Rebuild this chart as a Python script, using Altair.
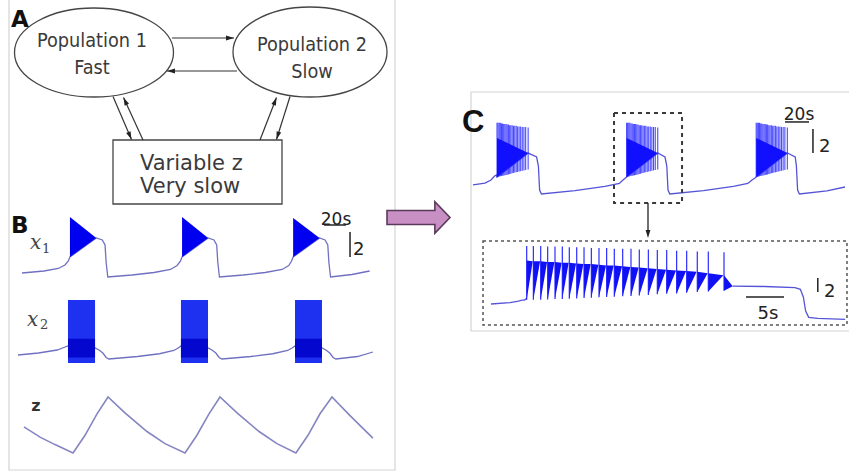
import math
import altair as alt
import pandas as pd

# ---------------------------------------------------------------------------
# Panel B: x1, x2 and z over three seizures (time in s, model units)
# ---------------------------------------------------------------------------
b_x1_t = [0, 20, 33, 39, 42, 43.6, 67.5, 73, 75.5, 76.5, 78, 100, 120, 135, 141, 144, 145.5,
          169.2, 174.5, 177, 178, 179.5, 201, 221, 236.5, 242.5, 245, 246.5,
          270.5, 275.5, 278, 279, 280.5, 300, 316]
b_x1_v = [-1.84, -1.68, -1.48, -1.20, -0.90, -0.56, 0.96, 0.80, 0.40, -1.0, -2.16, -2.0, -1.80, -1.56, -1.24, -0.90, -0.56,
          0.96, 0.80, 0.40, -1.0, -2.16, -2.0, -1.80, -1.56, -1.24, -0.90, -0.56,
          0.96, 0.80, 0.40, -1.0, -2.16, -1.96, -1.68]
b_x1_on = [43.6, 145.5, 246.5]
b_x1_off = [67.5, 169.2, 270.5]
b_x1_top = [2.64, 2.64, 2.56]
b_x1_bottom = [-0.56, -0.56, -0.56]
b_x1_apex = [0.96, 0.96, 0.96]

b_x2_t = [-3.6, 15, 32, 38, 41.8,
          66.4, 70, 73.5, 76.5, 79, 105, 125, 138, 142, 144.5,
          169.1, 172.7, 176.2, 179.2, 181.7, 208, 228, 241.5, 245.5, 248.2,
          272.7, 276.3, 279.8, 282.8, 285.3, 305, 319]
b_x2_v = [-2.0, -1.84, -1.60, -1.40, -1.28,
          -1.44, -1.60, -1.84, -2.20, -2.32, -2.12, -1.90, -1.64, -1.44, -1.28,
          -1.44, -1.60, -1.84, -2.20, -2.32, -2.12, -1.90, -1.64, -1.44, -1.28,
          -1.44, -1.60, -1.84, -2.20, -2.32, -2.12, -1.76]
b_x2_on = [41.8, 144.5, 248.2]
b_x2_off = [66.4, 169.1, 272.7]
b_x2_top = 2.4
b_x2_bottom = -2.64
b_x2_band = [-0.7, -2.2]

b_z_t = [1.8, 16.4, 30, 46.4, 57.3, 68.2, 78.2, 93.6, 113.6, 130, 148.2, 159, 170, 180,
         195.5, 215.5, 231.8, 249, 260, 270.9, 281.8, 298.2, 319]
b_z_v = [3.28, 3.17, 3.09, 3.0, 3.19, 3.42, 3.6, 3.43, 3.23, 3.10, 3.0, 3.19, 3.42, 3.6,
         3.43, 3.23, 3.10, 3.0, 3.19, 3.42, 3.6, 3.40, 3.16]

# ---------------------------------------------------------------------------
# Panel C: x1 over three seizures and a zoom on the second one
# ---------------------------------------------------------------------------
c_t = [0, 10, 15, 18, 19.5, 20, 46, 53, 54.5, 55.5, 57, 85, 110, 122, 125, 127, 128,
       154, 160, 161.5, 162.5, 164, 192, 217, 229, 232.5, 235, 236,
       262, 268.5, 269.5, 270.5, 272, 295, 310]
c_v = [-2.08, -1.92, -1.67, -1.33, -1.25, -1.42, 0.58, 0.25, -0.5, -2.5, -2.83, -2.55, -2.20, -1.95, -1.67, -1.5, -1.42,
       0.58, 0.25, -0.5, -2.5, -2.83, -2.55, -2.20, -1.95, -1.67, -1.5, -1.42,
       0.58, 0.25, -0.5, -2.5, -2.83, -2.58, -2.25]
c_on = [20, 128, 236]
c_off = [46, 154, 262]
c_fill_top = 1.83
c_fill_bottom = -1.42
c_apex = 0.58
c_spike_peak = [3.1, 3.1, 3.1, 3.1, 3.05, 3.05, 3.0, 3.0, 3.0, 2.95, 2.95, 2.9,
                2.9, 2.9, 2.85, 2.85, 2.85, 2.8, 2.8, 2.8, 2.75, 2.75, 2.75, 2.7]
c_spike_trough = [-1.42, -1.40, -1.38, -1.36, -1.34, -1.32, -1.30, -1.28, -1.25, -1.22, -1.20, -1.17,
                  -1.14, -1.11, -1.08, -1.05, -1.02, -0.99, -0.96, -0.93, -0.90, -0.87, -0.84, -0.80]

zoom_pre_t = [0, 2.5, 3.6, 4.1, 4.4, 4.7]
zoom_pre_v = [-2.0, -1.81, -1.6, -1.45, -1.43, -1.2]
zoom_spike_t = [4.70, 5.57, 6.54, 7.46, 8.42, 9.38, 10.30, 11.28, 12.24, 13.20, 14.21, 15.22,
                16.22, 17.33, 18.42, 19.51, 20.70, 21.88, 23.12, 24.43, 25.75, 27.14, 28.59, 30.66]
zoom_spike_peak = [6.3, 6.3, 6.3, 6.2, 6.2, 6.2, 6.1, 6.1, 6.1, 6.0, 6.0, 6.0,
                   5.9, 5.9, 5.9, 5.8, 5.8, 5.7, 5.7, 5.6, 5.6, 5.5, 5.5, 5.4]
zoom_spike_top = [4.2, 4.1, 4.1, 4.0, 4.0, 3.9, 3.9, 3.8, 3.7, 3.7, 3.6, 3.5,
                  3.5, 3.4, 3.3, 3.2, 3.1, 3.0, 2.9, 2.8, 2.7, 2.6, 2.4, 2.1]
zoom_spike_trough = [-1.4, -1.4, -1.4, -1.35, -1.3, -1.3, -1.25, -1.2, -1.15, -1.1, -1.05, -1.0,
                     -0.95, -0.9, -0.85, -0.8, -0.7, -0.6, -0.55, -0.5, -0.4, -0.3, -0.2, -0.1]
zoom_tail_t = [31.8, 36, 40.0, 40.7, 41.1, 41.4, 41.8, 43, 46.6]
zoom_tail_v = [0.55, 0.5, 0.33, 0.1, -1.0, -3.0, -3.9, -4.05, -4.19]

# ---------------------------------------------------------------------------
# Scales: each trace gets its own linear scale placed on the page
# ---------------------------------------------------------------------------
def lin(domain, rng):
    return alt.Scale(domain=domain, range=rng, nice=False, zero=False)

PX = lin([0, 849], [0, 849])
PY = lin([0, 475], [0, 475])
B_T = lin([-10, 320], [11, 374])
X1_Y = lin([-2, 2], [275, 225])
X2_Y = lin([-2, 2], [355, 305])
Z_Y = lin([3.0, 3.6], [453, 397])
C_T = lin([0, 310], [473, 845])
C_Y = lin([-2, 2], [184, 136])
ZM_T = lin([0, 40], [491, 795])
ZM_Y = lin([-2, 2], [304, 276])


def xy(xs, ys, x="t", y="v"):
    return dict(x=alt.X(f"{x}:Q", scale=xs, axis=None),
                y=alt.Y(f"{y}:Q", scale=ys, axis=None))


def band(xs, ys, df):
    return alt.Chart(df).encode(
        x=alt.X("t:Q", scale=xs, axis=None),
        y=alt.Y("up:Q", scale=ys, axis=None), y2="lo:Q", detail="id:N")


def rules(xs, ys, df):
    return alt.Chart(df).encode(
        x=alt.X("t:Q", scale=xs, axis=None), x2="t2:Q",
        y=alt.Y("v:Q", scale=ys, axis=None), y2="v2:Q")


LINE_B = "#7070c2"
LINE_Z = "#8585c2"
LINE_C = "#5454d8"
BLUE = "#0000f0"
TEXT = "#3a3a3a"

layers = []

# panel frames
frames = pd.DataFrame({"t": [9, 471], "t2": [395, 860], "v": [-5, 92], "v2": [470, 331]})
layers.append(rules(PX, PY, frames).mark_rect(fillOpacity=0, stroke="#d4d4d4", strokeWidth=1.2))

# ---------------- schematic (panel A) ----------------
def ellipse_path(b, k=0.5523):
    kb = k * b
    return (f"M -1 0 C -1 {-kb:.4f} {-k} {-b:.4f} 0 {-b:.4f} C {k} {-b:.4f} 1 {-kb:.4f} 1 0 "
            f"C 1 {kb:.4f} {k} {b:.4f} 0 {b:.4f} C {-k} {b:.4f} -1 {kb:.4f} -1 0 Z")

nodes = [(94, 52.5, 79.5, 44.5), (310, 52, 77, 45)]
for cx, cy, rx, ry in nodes:
    layers.append(
        alt.Chart(pd.DataFrame({"t": [cx], "v": [cy]}))
        .mark_point(shape=ellipse_path(ry / rx), size=(2 * rx) ** 2, filled=False,
                    color="#454545", strokeWidth=1.3, opacity=1)
        .encode(**xy(PX, PY)))

box = pd.DataFrame({"t": [113], "t2": [282], "v": [140], "v2": [204]})
layers.append(rules(PX, PY, box).mark_rect(fillOpacity=0, stroke="#454545", strokeWidth=1.3))

links = [(172, 38, 234, 38), (237, 71, 167, 71),
         (113, 96.5, 131.5, 139.5), (143, 140, 123.5, 97.5),
         (260, 140, 276.5, 97.5), (290, 96.5, 276.5, 139.5)]
link_df = pd.DataFrame(links, columns=["t", "v", "t2", "v2"])
link_df["angle"] = [(math.degrees(math.atan2(x2 - x1, -(y2 - y1))) + 360) % 360
                    for x1, y1, x2, y2 in links]
layers.append(rules(PX, PY, link_df).mark_rule(color="#333333", strokeWidth=1.2))

HEAD = "M 0 0 L 0.6 2 L -0.6 2 Z"
layers.append(
    alt.Chart(link_df).mark_point(shape=HEAD, size=64, filled=True, color="#222222", opacity=1)
    .encode(**xy(PX, PY, "t2", "v2"), angle=alt.Angle("angle:Q", scale=None)))

# ---------------- panel B traces ----------------
layers.append(alt.Chart(pd.DataFrame({"t": b_x1_t, "v": b_x1_v}))
              .mark_line(color=LINE_B, strokeWidth=1.3).encode(**xy(B_T, X1_Y)))
x1_burst = pd.DataFrame(
    [{"id": i, "t": b_x1_on[i], "up": b_x1_top[i], "lo": b_x1_bottom[i]} for i in range(3)] +
    [{"id": i, "t": b_x1_off[i], "up": b_x1_apex[i], "lo": b_x1_apex[i]} for i in range(3)])
layers.append(band(B_T, X1_Y, x1_burst).mark_area(color=BLUE, opacity=1))

layers.append(alt.Chart(pd.DataFrame({"t": b_x2_t, "v": b_x2_v}))
              .mark_line(color=LINE_B, strokeWidth=1.3).encode(**xy(B_T, X2_Y)))
x2_burst = pd.DataFrame(
    [{"id": i, "t": t, "up": b_x2_top, "lo": b_x2_bottom} for i in range(3) for t in (b_x2_on[i], b_x2_off[i])])
layers.append(band(B_T, X2_Y, x2_burst).mark_area(color="#1e30f0", opacity=1))
x2_band = pd.DataFrame(
    [{"id": i, "t": t, "up": b_x2_band[0], "lo": b_x2_band[1]} for i in range(3) for t in (b_x2_on[i], b_x2_off[i])])
layers.append(band(B_T, X2_Y, x2_band).mark_area(color="#0000c8", opacity=0.85))

layers.append(alt.Chart(pd.DataFrame({"t": b_z_t, "v": b_z_v}))
              .mark_line(color=LINE_Z, strokeWidth=1.6).encode(**xy(B_T, Z_Y)))

b_bars = pd.DataFrame({"t": [274.5, 298.2], "t2": [294.5, 298.2], "v": [2.0, 1.44], "v2": [2.0, -0.56]})
layers.append(rules(B_T, X1_Y, b_bars).mark_rule(color="#222222", strokeWidth=1.5))

# ---------------- panel C, full trace ----------------
layers.append(alt.Chart(pd.DataFrame({"t": c_t, "v": c_v}))
              .mark_line(color=LINE_C, strokeWidth=1.3).encode(**xy(C_T, C_Y)))
c_spikes = pd.DataFrame(
    [{"t": c_on[i] + zoom_spike_t[k] - zoom_spike_t[0], "v": c_spike_trough[k], "v2": c_spike_peak[k]}
     for i in range(3) for k in range(len(zoom_spike_t))])
c_spikes["t2"] = c_spikes["t"]
layers.append(rules(C_T, C_Y, c_spikes).mark_rule(color="#2a2aff", strokeWidth=1.1, opacity=0.85))
c_burst = pd.DataFrame(
    [{"id": i, "t": c_on[i], "up": c_fill_top, "lo": c_fill_bottom} for i in range(3)] +
    [{"id": i, "t": c_off[i], "up": c_apex, "lo": c_apex} for i in range(3)])
layers.append(band(C_T, C_Y, c_burst).mark_area(color="#1010ff", opacity=1))

c_box = pd.DataFrame({"t": [117.5], "t2": [174.2], "v": [3.92], "v2": [-3.58]})
layers.append(rules(C_T, C_Y, c_box).mark_rect(fillOpacity=0, stroke="#3a3a3a", strokeWidth=2,
                                               strokeDash=[4, 4]))
c_bars = pd.DataFrame({"t": [260, 283.3], "t2": [280, 283.3], "v": [3.17, 2.58], "v2": [3.17, 0.58]})
layers.append(rules(C_T, C_Y, c_bars).mark_rule(color="#222222", strokeWidth=1.5))

# ---------------- panel C, zoom on the second seizure ----------------
zoom_line = pd.DataFrame(
    [{"seg": 0, "t": t, "v": v} for t, v in zip(zoom_pre_t, zoom_pre_v)] +
    [{"seg": 1, "t": t, "v": v} for t, v in zip(zoom_tail_t, zoom_tail_v)])
layers.append(alt.Chart(zoom_line).mark_line(color=LINE_C, strokeWidth=1.3)
              .encode(**xy(ZM_T, ZM_Y), detail="seg:N"))

n = len(zoom_spike_t)
wedges = []
for k in range(n):
    tip_t = zoom_spike_t[k + 1] - 0.08 if k < n - 1 else zoom_tail_t[0]
    tip_v = zoom_spike_top[k + 1] if k < n - 1 else zoom_tail_v[0]
    wedges.append({"id": k, "t": zoom_spike_t[k], "up": zoom_spike_top[k], "lo": zoom_spike_trough[k]})
    wedges.append({"id": k, "t": tip_t, "up": tip_v, "lo": tip_v})
layers.append(band(ZM_T, ZM_Y, pd.DataFrame(wedges)).mark_area(color="#1010f4", opacity=1))
zoom_spikes = pd.DataFrame({"t": zoom_spike_t, "t2": zoom_spike_t,
                            "v": zoom_spike_trough, "v2": zoom_spike_peak})
layers.append(rules(ZM_T, ZM_Y, zoom_spikes).mark_rule(color="#1a1aff", strokeWidth=1.1))

zoom_box = pd.DataFrame({"t": [-1.05], "t2": [46.84], "v": [7.0], "v2": [-5.0]})
layers.append(rules(ZM_T, ZM_Y, zoom_box).mark_rect(fillOpacity=0, stroke="#555555", strokeWidth=1.5,
                                                    strokeDash=[3, 3]))
zoom_bars = pd.DataFrame({"t": [33.55, 43.0], "t2": [38.55, 43.0], "v": [-1.0, 1.71], "v2": [-1.0, -0.29]})
layers.append(rules(ZM_T, ZM_Y, zoom_bars).mark_rule(color="#222222", strokeWidth=1.5))

# ---------------- arrows between parts ----------------
ARROW = "M -1 -0.22 L 0.52 -0.22 L 0.52 -0.5 L 1 0 L 0.52 0.5 L 0.52 0.22 L -1 0.22 Z"
layers.append(
    alt.Chart(pd.DataFrame({"t": [418.5], "v": [217.5]}))
    .mark_point(shape=ARROW, size=63 ** 2, filled=True, fill="#c88fc5", stroke="#5a3a5a",
                strokeWidth=1.6, opacity=1)
    .encode(**xy(PX, PY)))
down = pd.DataFrame({"t": [648], "t2": [648], "v": [203], "v2": [232]})
layers.append(rules(PX, PY, down).mark_rule(color="#222222", strokeWidth=1.3))
layers.append(
    alt.Chart(pd.DataFrame({"t": [648], "v": [238], "angle": [180]}))
    .mark_point(shape=HEAD, size=64, filled=True, color="#222222", opacity=1)
    .encode(**xy(PX, PY), angle=alt.Angle("angle:Q", scale=None)))

# ---------------- text ----------------
def text_layer(rows, **kw):
    df = pd.DataFrame(rows, columns=["text", "t", "v"])
    return alt.Chart(df).mark_text(**kw).encode(**xy(PX, PY), text="text:N")

layers.append(text_layer([("A", 11, 20), ("B", 11, 226)], font="DejaVu Sans", fontWeight="bold",
                         fontSize=23, align="left", color="#111111"))
layers.append(text_layer([("C", 462, 123)], font="Liberation Sans", fontWeight="bold",
                         fontSize=31, align="left", color="#111111"))
layers.append(text_layer([("Population 1", 92, 41), ("Fast", 92, 68),
                          ("Population 2", 312, 45), ("Slow", 312, 72)],
                         font="DejaVu Sans Condensed, DejaVu Sans", fontSize=19.7, align="center",
                         color=TEXT))
layers.append(text_layer([("Variable z", 140, 164), ("Very slow", 140, 187)],
                         font="DejaVu Sans", fontSize=21, align="left", color=TEXT))
layers.append(text_layer([("x", 30, 243), ("x", 27, 320)], font="DejaVu Serif",
                         fontStyle="italic", fontSize=20, align="left", color="#444444"))
layers.append(text_layer([("1", 42, 249), ("2", 40, 325)], font="DejaVu Serif",
                         fontSize=13, align="left", color="#444444"))
layers.append(text_layer([("z", 36, 406)], font="DejaVu Sans", fontWeight="bold",
                         fontSize=16, align="center", color="#333333"))
layers.append(text_layer([("20s", 336, 220), ("20s", 799, 115)], font="DejaVu Sans",
                         fontSize=17, align="center", color="#222222"))
layers.append(text_layer([("2", 353, 250), ("2", 819, 147), ("2", 824, 292)], font="DejaVu Sans",
                         fontSize=18, align="left", color="#222222"))
layers.append(text_layer([("5s", 768, 314)], font="DejaVu Sans",
                         fontSize=18, align="center", color="#222222"))

chart = (
    alt.layer(*layers)
    .resolve_scale(x="independent", y="independent")
    .properties(width=849, height=475, padding=0,
                autosize=alt.AutoSizeParams(type="none"), background="white")
    .configure_view(stroke=None)
)

chart.save("out.html", embed_options={"renderer": "svg", "actions": False})
